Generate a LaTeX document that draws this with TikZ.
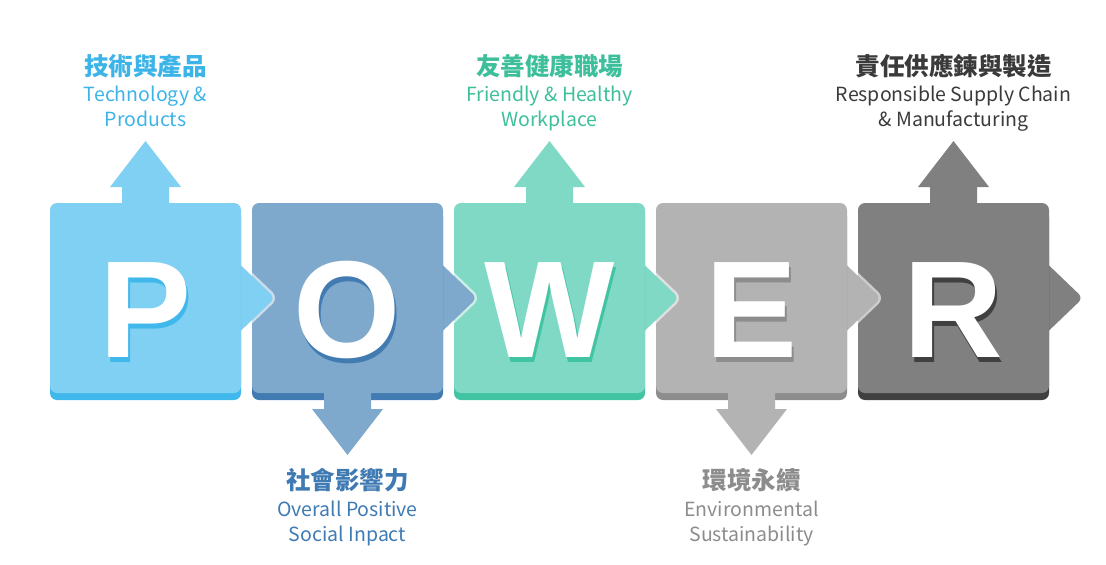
\documentclass[tikz,border=0pt]{standalone}
\usepackage{fontspec}
\newfontfamily\cjkfont{Noto Sans CJK TC}
\newfontfamily\letterfont{Liberation Sans}
\usetikzlibrary{positioning,calc}

\definecolor{pfill}{HTML}{7FD0F2}
\definecolor{pdark}{HTML}{41B8EB}
\definecolor{ptext}{HTML}{3CB4E7}
\definecolor{ofill}{HTML}{7FA9CC}
\definecolor{odark}{HTML}{417BB1}
\definecolor{otext}{HTML}{3F7AB3}
\definecolor{wfill}{HTML}{7FD9C4}
\definecolor{wdark}{HTML}{40C4A2}
\definecolor{wtext}{HTML}{3DBF9C}
\definecolor{efill}{HTML}{B3B3B3}
\definecolor{edark}{HTML}{8D8D8D}
\definecolor{etext}{HTML}{8C8C8C}
\definecolor{rfill}{HTML}{808080}
\definecolor{rdark}{HTML}{404040}
\definecolor{rtext}{HTML}{3A3A3A}

\tikzset{
  piece/.style={
    rounded corners=7pt,
    minimum width=191pt,
    minimum height=190pt,
    inner sep=0pt
  },
  notch/.style={
    rounded corners=6pt,
    preaction={draw=white, draw opacity=.6, line width=5pt, line join=round}
  },
  bigletter/.style={anchor=base, inner sep=0pt, font=\letterfont\bfseries\fontsize{138}{138}\selectfont},
  cntitle/.style={anchor=base, inner sep=0pt, font=\cjkfont\bfseries\fontsize{24.5}{28}\selectfont},
  entext/.style={anchor=base, inner sep=0pt, align=center, font=\cjkfont\fontsize{19.5}{25}\selectfont}
}
% #1 name, #2 centre x, #3 letter, #4 fill, #5 dark
\newcommand{\powerpiece}[5]{
  \coordinate (#1c) at (#2,298);
  \path[notch, fill=#4] ($(#1c)+(94,-34)$) -- ($(#1c)+(129.5,0)$) -- ($(#1c)+(94,34)$);
  \node[piece, fill=#5] (#1base) at ($(#1c)+(0,7)$) {};
  \node[piece, fill=#4] (#1box) at (#1c) {};
  \node[bigletter, text=#5] (#1glow) at ($(#1c)+(2,64)$) {#3};
  \node[bigletter, text=white] (#1letter) at ($(#1c)+(0,59)$) {#3};
}
% #1 name, #2 fill, #3 direction (-1 up, 1 down)
\newcommand{\powerarrow}[3]{
  \fill[#2] ($(#1c)+(-23.5,#3*90)$) -- ($(#1c)+(-23.5,#3*111)$) -- ($(#1c)+(-35.5,#3*111)$)
    -- ($(#1c)+(0,#3*157)$) -- ($(#1c)+(35.5,#3*111)$) -- ($(#1c)+(23.5,#3*111)$)
    -- ($(#1c)+(23.5,#3*90)$) -- cycle;
}

\begin{document}
\begin{tikzpicture}[x=1pt, y=-1pt]
  \useasboundingbox (0,0) rectangle (1106,565);

  % -------------------------------------------------------------------
  % pieces, right to left so each notch sits on the next piece
  % -------------------------------------------------------------------
  \powerpiece{r}{953.5}{R}{rfill}{rdark}
  \powerpiece{e}{751.5}{E}{efill}{edark}
  \powerpiece{w}{549.5}{W}{wfill}{wdark}
  \powerpiece{o}{347.5}{O}{ofill}{odark}
  \powerpiece{p}{145.5}{P}{pfill}{pdark}

  % -------------------------------------------------------------------
  % arrows
  % -------------------------------------------------------------------
  \powerarrow{p}{pfill}{-1}
  \powerarrow{o}{ofill}{1}
  \powerarrow{w}{wfill}{-1}
  \powerarrow{e}{efill}{1}
  \powerarrow{r}{rfill}{-1}

  % -------------------------------------------------------------------
  % labels (caption nodes sit on their last line)
  % -------------------------------------------------------------------
  \node[cntitle, text=ptext] (ptitle) at (145.5,75) {技術與產品};
  \node[entext, text=ptext] (pcaption) at (145.5,126) {Technology \&\\Products};

  \node[cntitle, text=otext] (otitle) at (347.5,489) {社會影響力};
  \node[entext, text=otext] (ocaption) at (347.5,541) {Overall Positive\\Social Inpact};

  \node[cntitle, text=wtext] (wtitle) at (549.5,75) {友善健康職場};
  \node[entext, text=wtext] (wcaption) at (549.5,126) {Friendly \& Healthy\\Workplace};

  \node[cntitle, text=etext] (etitle) at (751.5,489) {環境永續};
  \node[entext, text=etext] (ecaption) at (751.5,541) {Environmental\\Sustainability};

  \node[cntitle, text=rtext] (rtitle) at (953.5,75) {責任供應鍊與製造};
  \node[entext, text=rtext] (rcaption) at (953.5,126) {Responsible Supply Chain\\\& Manufacturing};

\end{tikzpicture}
\end{document}
